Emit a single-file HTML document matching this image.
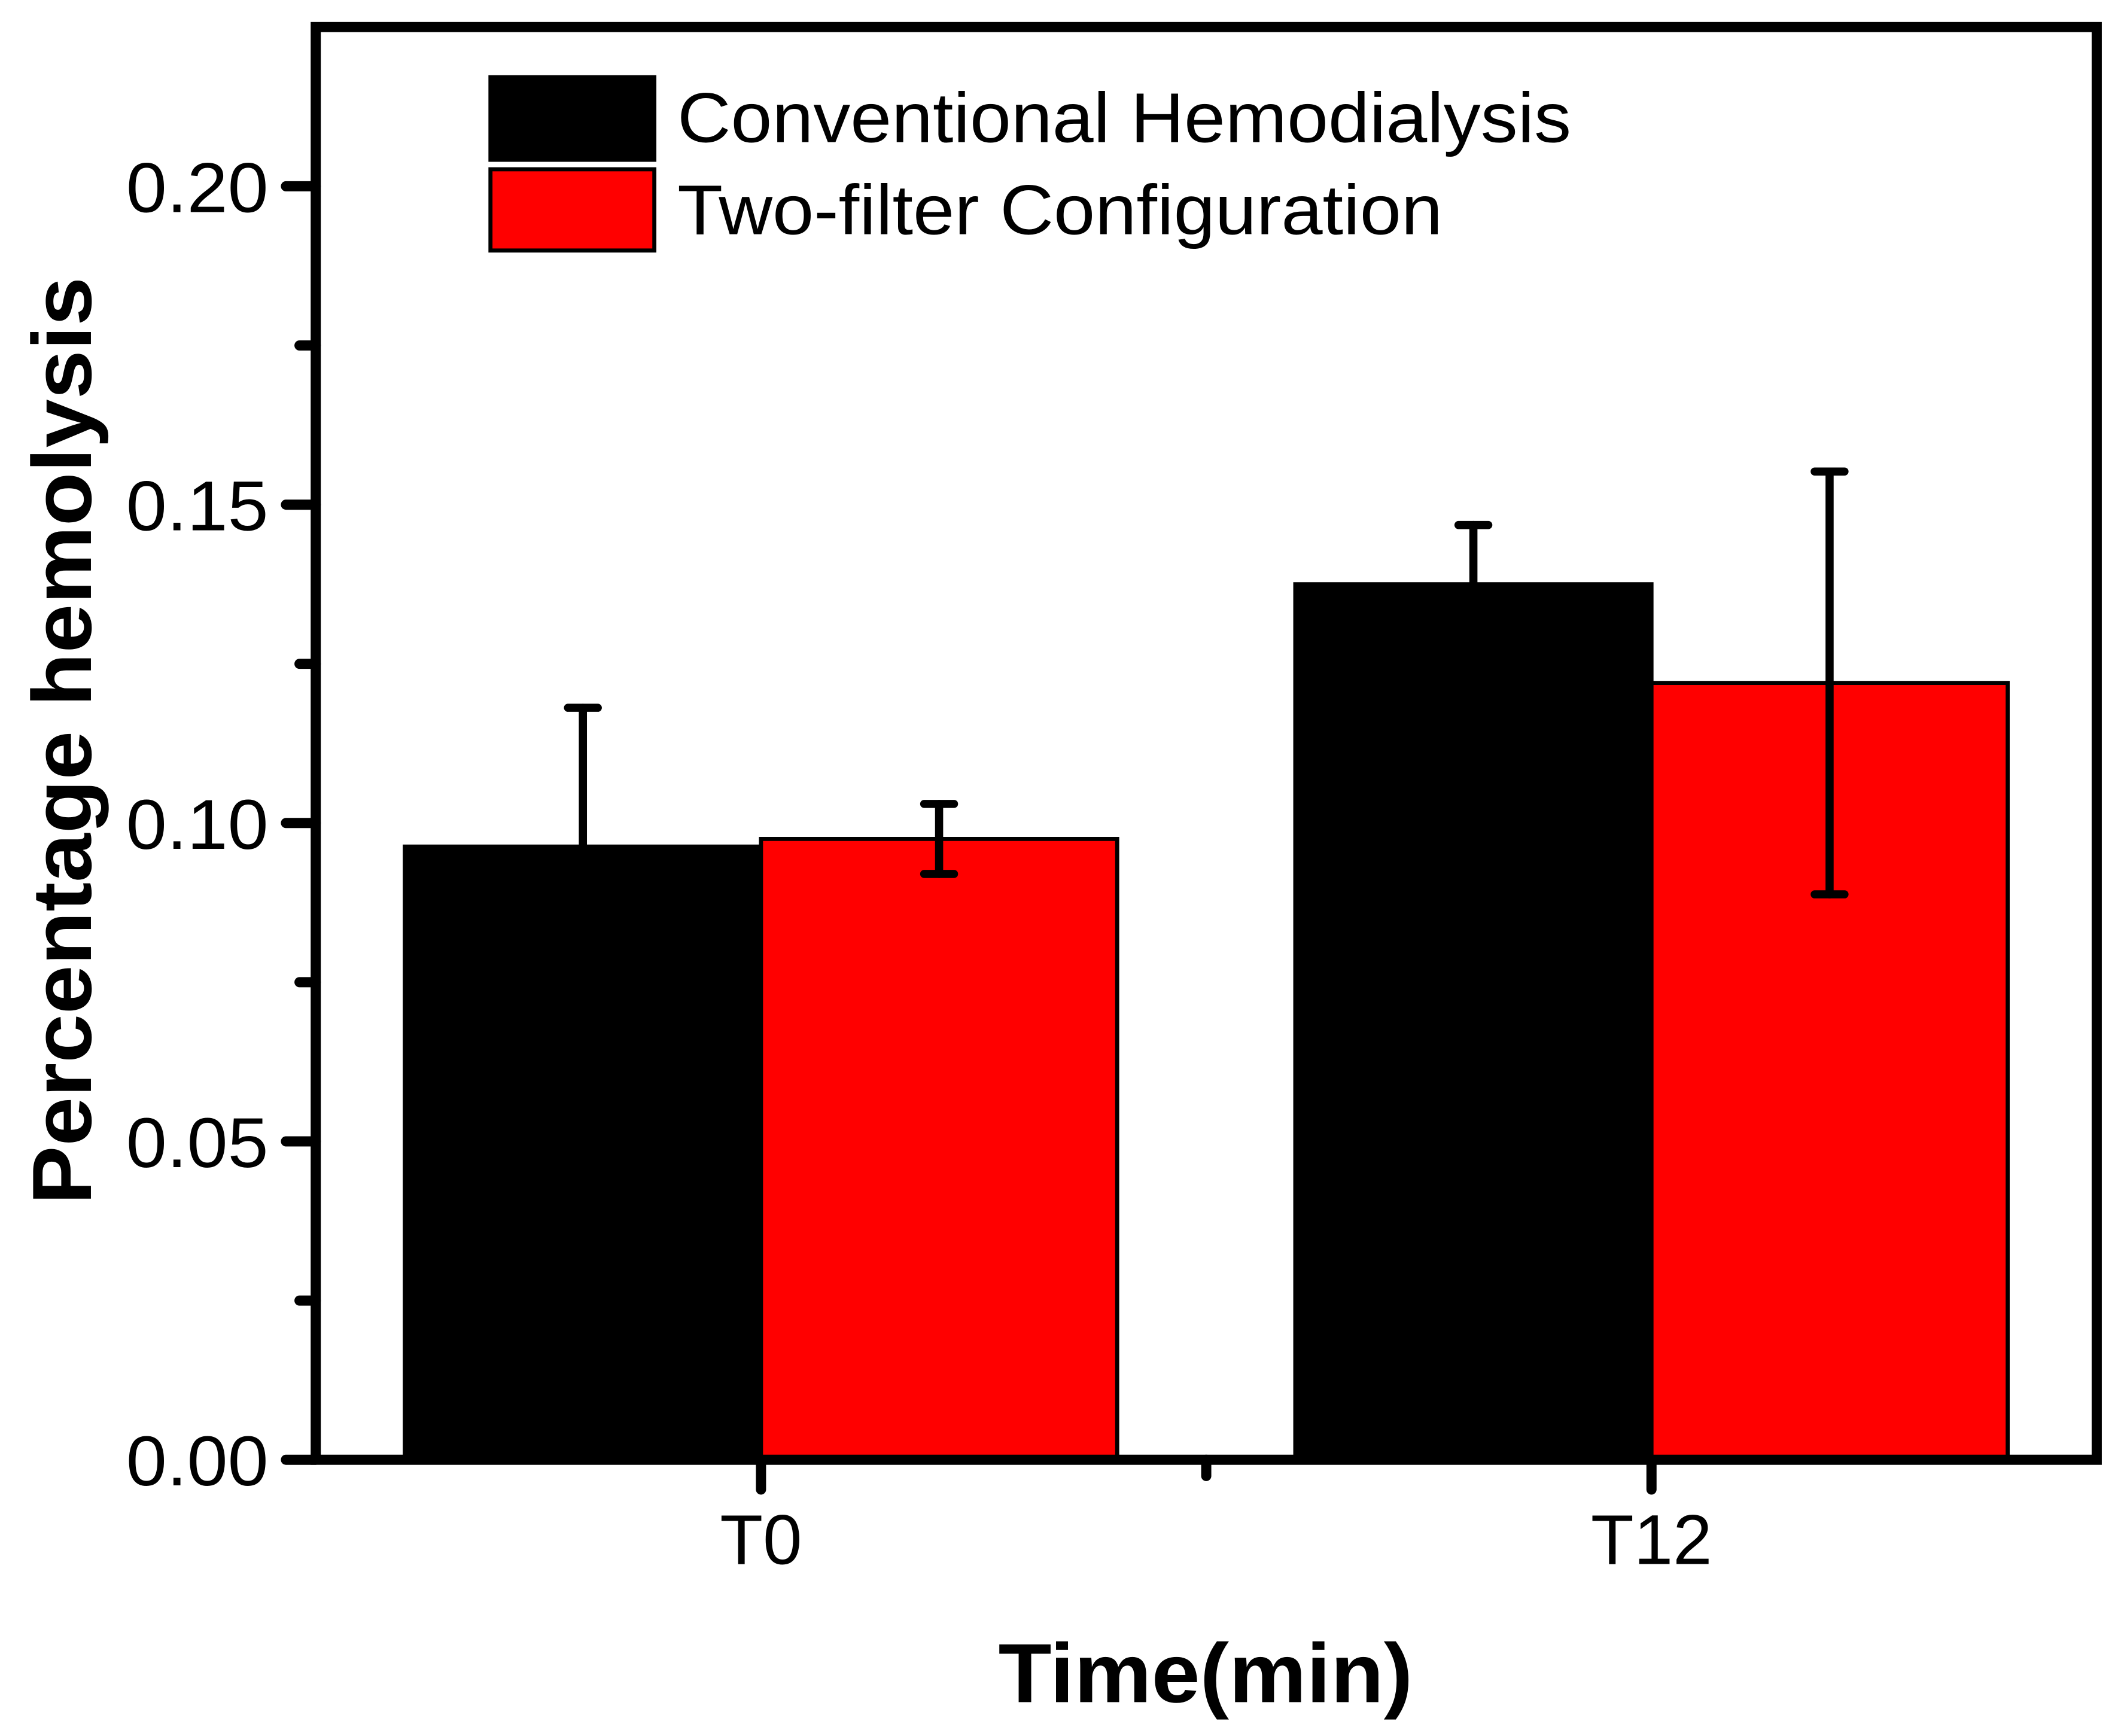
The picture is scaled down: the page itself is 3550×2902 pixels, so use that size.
<!DOCTYPE html>
<html><head><meta charset="utf-8"><style>
html,body{margin:0;padding:0;background:#fff;}
svg{display:block;}
text{font-family:"Liberation Sans",Arial,sans-serif;}
</style></head><body>
<svg id="chart" width="3550" height="2902" viewBox="0 0 1568 1282" xmlns="http://www.w3.org/2000/svg">
<rect x="0" y="0" width="1568" height="1282" fill="#fff"/>
<g id="bars"></g>
<g id="errs"></g>
<g id="axes"></g>
<g>
  <rect x="362" y="57" width="121" height="61" fill="#000" stroke="#000" stroke-width="3"/>
  <rect x="362" y="125" width="121" height="60" fill="#ff0000" stroke="#000" stroke-width="3"/>
  <text x="500" y="105" font-size="52" textLength="660" lengthAdjust="spacingAndGlyphs">Conventional Hemodialysis</text>
  <text x="500" y="173" font-size="52" textLength="565" lengthAdjust="spacingAndGlyphs">Two-filter Configuration</text>
</g>
<text transform="translate(67,547) rotate(-90)" text-anchor="middle" font-size="62" font-weight="bold" textLength="685" lengthAdjust="spacingAndGlyphs">Percentage hemolysis</text>
<text x="890" y="1257" text-anchor="middle" font-size="62" font-weight="bold" textLength="306" lengthAdjust="spacingAndGlyphs">Time(min)</text>
</svg>
<script>
const categories = ["T0", "T12"];
const seriesNames = ["Conventional Hemodialysis", "Two-filter Configuration"];
const conventional = [0.0963, 0.1375];
const conventionalErr = [0.0218, 0.0093];
const twoFilter = [0.0975, 0.1220];
const twoFilterErr = [0.0055, 0.0332];
const yTicks = [0, 0.05, 0.10, 0.15, 0.20];
const yTickLabels = ["0.00", "0.05", "0.10", "0.15", "0.20"];

const NS = "http://www.w3.org/2000/svg";
const L = 233, R = 1548, T = 20, B = 1078;
const xMin = 0.5, xMax = 2.5, yMin = 0, yMax = 0.225;
function xs(v){ return L + (v - xMin) / (xMax - xMin) * (R - L); }
function ys(v){ return B - (v - yMin) / (yMax - yMin) * (B - T); }
function mk(tag, attrs, parent){
  const e = document.createElementNS(NS, tag);
  for (const k in attrs) e.setAttribute(k, attrs[k]);
  parent.appendChild(e); return e;
}
const barsG = document.getElementById('bars');
const errG = document.getElementById('errs');
const axG = document.getElementById('axes');
const series = [
  {vals: conventional, errs: conventionalErr, color: '#000', off: -0.2, key: 'conventional', both: false},
  {vals: twoFilter, errs: twoFilterErr, color: '#ff0000', off: 0.2, key: 'two-filter', both: true}
];
const bw = 0.4;
series.forEach(s => {
  categories.forEach((c, i) => {
    const cx = i + 1 + s.off;
    const x0 = xs(cx - bw/2), x1 = xs(cx + bw/2);
    const r = mk('rect', {x: x0, y: ys(s.vals[i]), width: x1 - x0, height: ys(0) - ys(s.vals[i]), fill: s.color, stroke: '#000', 'stroke-width': 3}, barsG);
    
    
    const px = xs(cx);
    const top = ys(s.vals[i] + s.errs[i]);
    const bot = s.both ? ys(s.vals[i] - s.errs[i]) : ys(s.vals[i]);
    const g = mk('g', {stroke: '#000', 'stroke-width': 6, 'stroke-linecap': 'round'}, errG);
    
    
    mk('line', {x1: px, x2: px, y1: top, y2: bot}, g);
    mk('line', {x1: px - 11, x2: px + 11, y1: top, y2: top}, g);
    if (s.both) mk('line', {x1: px - 11, x2: px + 11, y1: bot, y2: bot}, g);
  });
});
// frame
const frame = mk('rect', {x: L, y: T, width: R - L, height: B - T, fill: 'none', stroke: '#000', 'stroke-width': 7.5}, axG);


// y ticks
yTicks.forEach((v, i) => {
  const y = ys(v);
  const t = mk('line', {x1: L - 22, x2: L, y1: y, y2: y, stroke: '#000', 'stroke-width': 7.5, 'stroke-linecap': 'round'}, axG);
  
  
  const lb = mk('text', {x: 198, y: y + 19, 'text-anchor': 'end', 'font-size': 52, textLength: 105, lengthAdjust: 'spacingAndGlyphs'}, axG);
  lb.textContent = yTickLabels[i];
  
  
  if (i < yTicks.length - 1) {
    const ym = ys(v + 0.025);
    const m = mk('line', {x1: L - 12, x2: L, y1: ym, y2: ym, stroke: '#000', 'stroke-width': 7.5, 'stroke-linecap': 'round'}, axG);
    
    
  }
});
// x ticks
categories.forEach((c, i) => {
  const x = xs(i + 1);
  const t = mk('line', {x1: x, x2: x, y1: B, y2: B + 22, stroke: '#000', 'stroke-width': 7.5, 'stroke-linecap': 'round'}, axG);
  
  
  const lb = mk('text', {x: x, y: 1155, 'text-anchor': 'middle', 'font-size': 52}, axG);
  lb.textContent = c;
  
  
});
const xm = xs(1.5);
const mt = mk('line', {x1: xm, x2: xm, y1: B, y2: B + 12, stroke: '#000', 'stroke-width': 7.5, 'stroke-linecap': 'round'}, axG);


</script>
</body></html>
